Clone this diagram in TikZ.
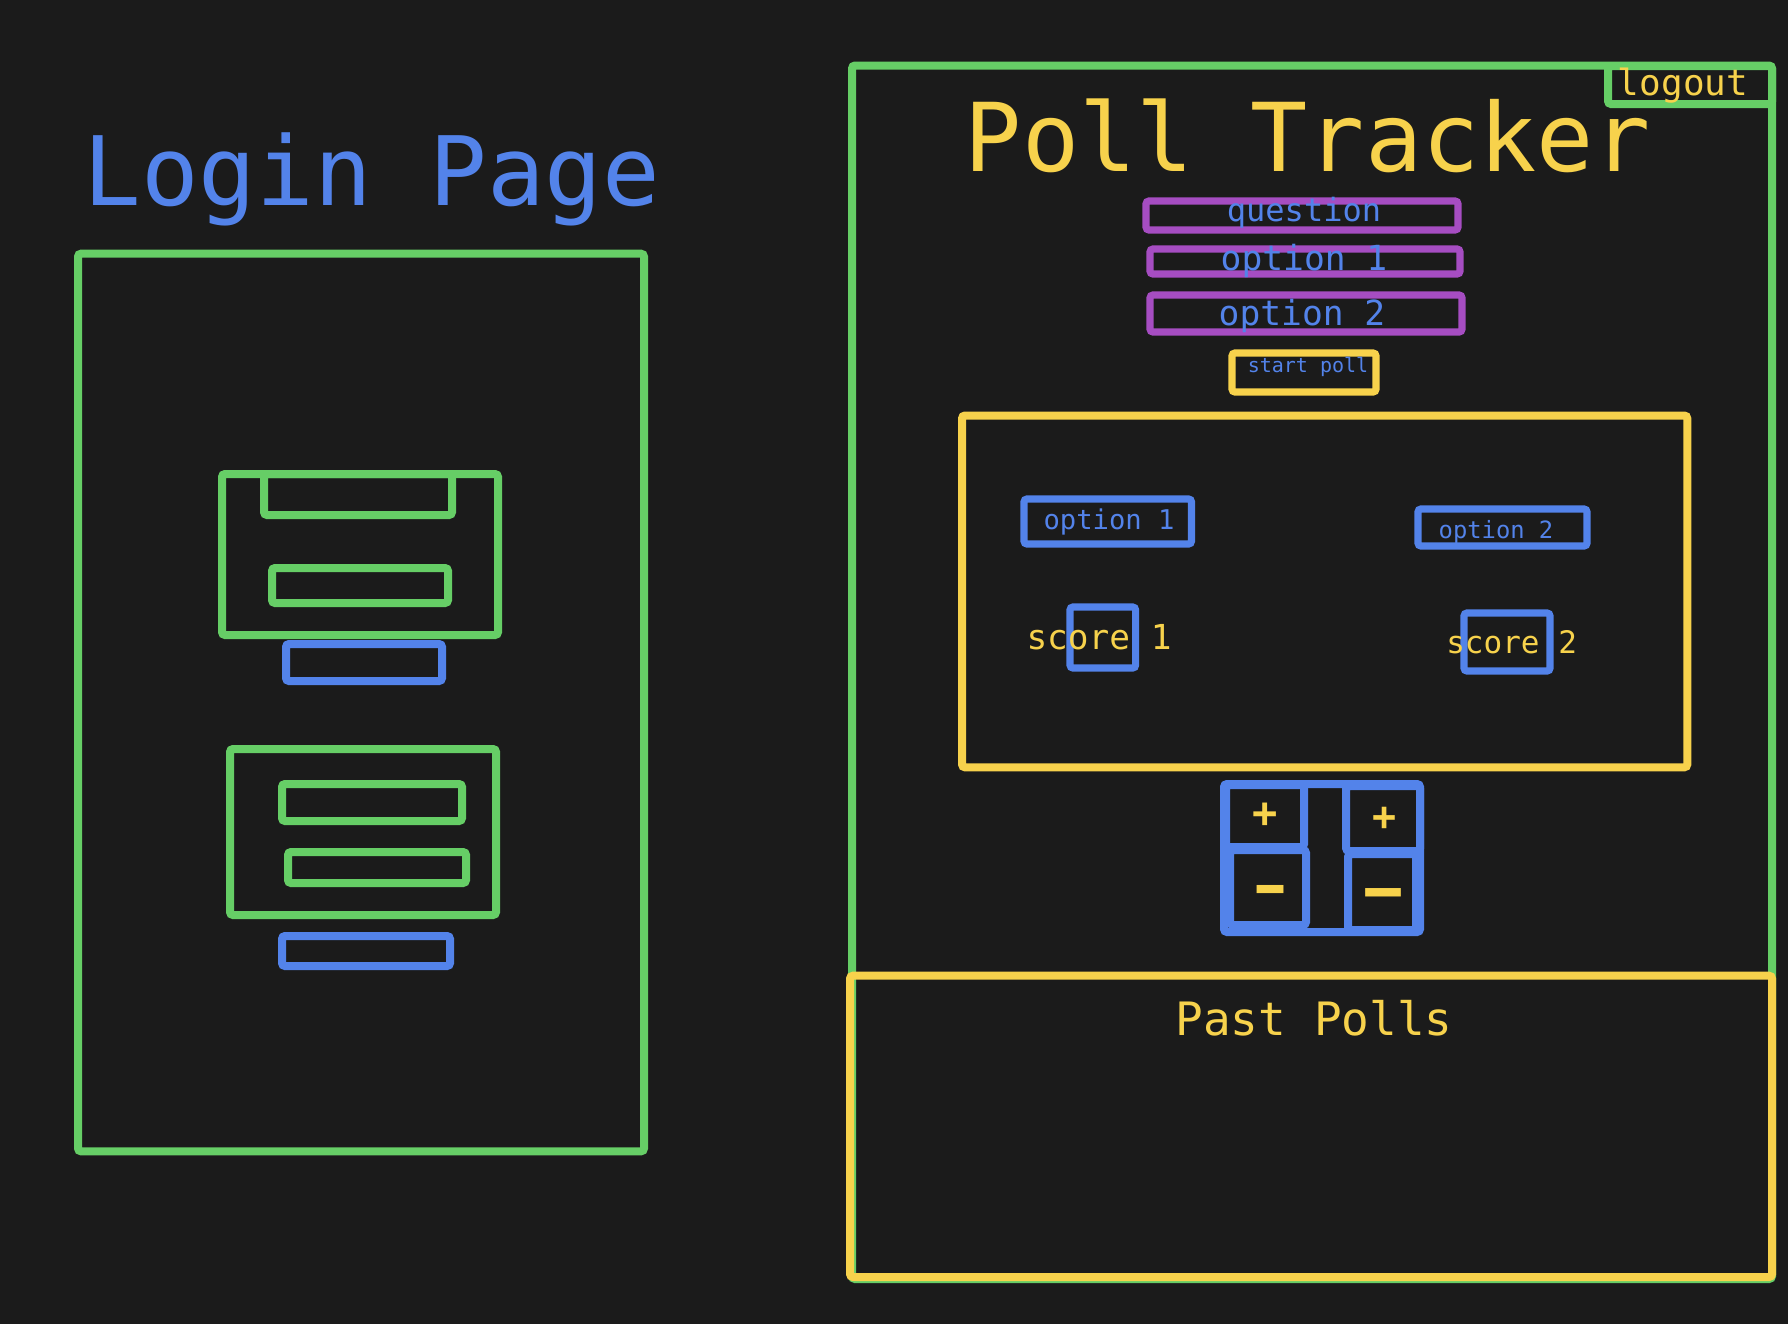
\documentclass[tikz,border=0pt]{standalone}
\usepackage{fontspec}
\newfontfamily\mono{DejaVu Sans Mono}
\definecolor{bg}{HTML}{1B1B1B}
\definecolor{wgreen}{HTML}{66CE66}
\definecolor{wyellow}{HTML}{F7D24C}
\definecolor{wblue}{HTML}{5383EA}
\definecolor{wpurple}{HTML}{A64DC2}
\newcommand\wbox[7][4pt]{%
  \node[draw=#3, line width=#1, rounded corners=1.5pt, inner sep=0pt, outer sep=0pt,
        minimum width={(#6-#4)*0.5pt}, minimum height={(#7-#5)*0.5pt}]
        (#2) at ({(#4+#6)/2},{(#5+#7)/2}) {};}
\tikzset{
  txt/.style 2 args={anchor=base, inner sep=0pt, outer sep=0pt, text=#1,
     font={\mono\fontsize{#2}{#2}\selectfont}},
  sym/.style 2 args={anchor=center, inner sep=0pt, outer sep=0pt, text=#1,
     font={\mono\bfseries\fontsize{#2}{#2}\selectfont}}
}
\begin{document}
\begin{tikzpicture}[x=0.5pt,y=-0.5pt]
\fill[bg] (0,0) rectangle (1788,1324);
\useasboundingbox (0,0) rectangle (1788,1324);

% ---------- Login page ----------
\node[txt={wblue}{47.9pt}] (logintitle) at (372,205) {Login Page};
\wbox{lframe}{wgreen}{78}{253.7}{644}{1151.3}
\wbox{ubox}{wgreen}{222}{474}{498}{635}
\wbox{uin1}{wgreen}{264}{474}{452}{515}
\wbox{uin2}{wgreen}{272}{568}{448}{603}
\wbox{ubtn}{wblue}{286}{644}{442}{681}
\wbox{dbox}{wgreen}{230}{749}{496}{915}
\wbox{din1}{wgreen}{282}{784}{462}{821}
\wbox{din2}{wgreen}{288}{852}{466}{883}
\wbox{dbtn}{wblue}{282}{936}{450}{966}

% ---------- Poll tracker ----------
\wbox{rframe}{wgreen}{852}{65.5}{1772}{1279}
\wbox{logoutbox}{wgreen}{1608}{66}{1772}{104}
\node[txt={wyellow}{18pt}] (logout) at (1683,95) {logout};
\node[txt={wyellow}{47.5pt}] (polltitle) at (1308,171) {Poll Tracker};

\wbox[3.6pt]{qbox}{wpurple}{1146}{201}{1458}{230}
\node[txt={wblue}{16pt}] (qtxt) at (1304,221.7) {question};
\wbox[3.6pt]{p1box}{wpurple}{1150}{249}{1460}{274}
\node[txt={wblue}{17.3pt}] (p1txt) at (1304,270.7) {option 1};
\wbox[3.6pt]{p2box}{wpurple}{1150}{295}{1462}{332}
\node[txt={wblue}{17.3pt}] (p2txt) at (1302,325.7) {option 2};
\wbox[3.6pt]{startbox}{wyellow}{1232}{353}{1376}{392}
\node[txt={wblue}{10pt}] (starttxt) at (1308,372.7) {start poll};

\wbox{votebox}{wyellow}{962}{415.5}{1687.3}{767.3}
\wbox[3.6pt]{o1box}{wblue}{1024}{499}{1191.5}{544}
\node[txt={wblue}{13.6pt}] (o1txt) at (1109,529) {option 1};
\wbox[3.6pt]{o2box}{wblue}{1418}{509}{1587}{546}
\node[txt={wblue}{11.9pt}] (o2txt) at (1496,538) {option 2};
\wbox[3.6pt]{s1box}{wblue}{1070}{607}{1135.6}{668}
\node[txt={wyellow}{17.2pt}] (s1txt) at (1099,649) {score 1};
\wbox[3.6pt]{s2box}{wblue}{1464}{613}{1550}{671}
\node[txt={wyellow}{15.5pt}] (s2txt) at (1511.6,653) {score 2};

% buttons
\wbox{btnouter}{wblue}{1224}{784}{1420}{932}
\wbox{plusA}{wblue}{1226}{785}{1304}{847}
\wbox{minusB}{wblue}{1230}{850}{1306}{925}
\wbox{plusC}{wblue}{1346}{786}{1420}{851}
\wbox{minusD}{wblue}{1348}{854}{1416}{930}
\node[sym={wyellow}{21pt}] (plus1) at (1265,815) {+};
\node[sym={wyellow}{20pt}] (plus2) at (1385,818.7) {+};
\node[sym={wyellow}{25pt}] (minus1) at (1271,898.5) {\scalebox{1}[1.4]{−}};
\node[sym={wyellow}{25pt}] (minus2) at (1384,901.7) {\scalebox{1.33}[1.45]{−}};

% past polls
\wbox{pastbox}{wyellow}{850}{975.7}{1772}{1277}
\node[txt={wyellow}{23pt}] (pasttxt) at (1314,1035.4) {Past Polls};
\end{tikzpicture}
\end{document}
